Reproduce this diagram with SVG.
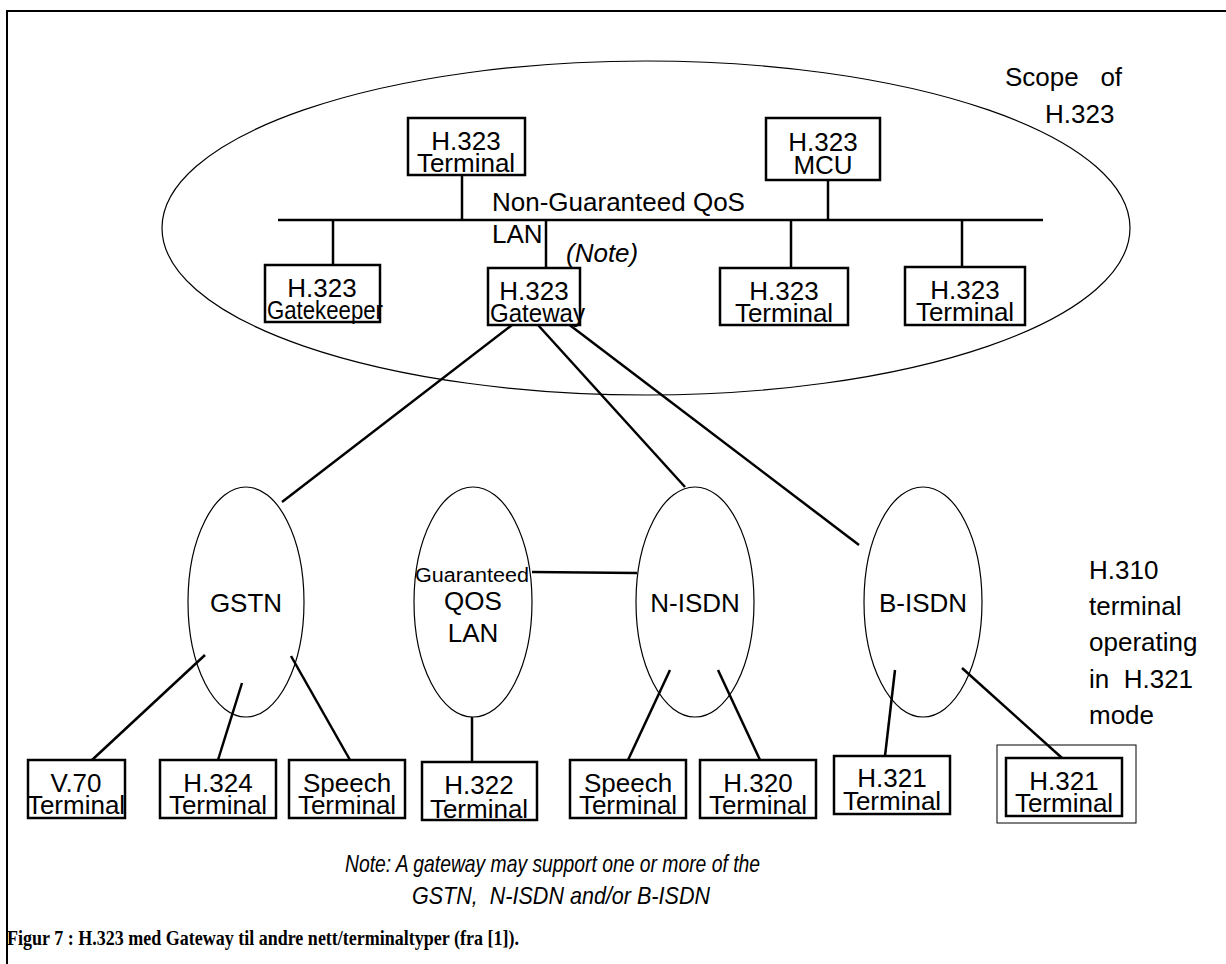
<svg xmlns="http://www.w3.org/2000/svg" width="1226" height="964" viewBox="0 0 1226 964">
<style>
.box{fill:#fff;stroke:#000;stroke-width:2.5}
.ell{fill:none;stroke:#000;stroke-width:1.2}
.ln{stroke:#000;stroke-width:2.5;fill:none}
.t{font-family:"Liberation Sans",Arial,sans-serif;font-size:26px;fill:#000}
.c{text-anchor:middle}
.it{font-style:italic}
.cap{font-family:"Liberation Serif","Times New Roman",serif;font-weight:bold;font-size:22px;fill:#000}
</style>
<rect width="1226" height="964" fill="#fff"/>
<path d="M7,964 V11 H1226" stroke="#000" stroke-width="2" fill="none"/>
<ellipse class="ell" cx="646" cy="228" rx="484" ry="167"/>
<text class="t" x="1005" y="86" style="white-space:pre" xml:space="preserve">Scope   of</text>
<text class="t" x="1045" y="123">H.323</text>
<g id="connectors">
<line class="ln" x1="462" y1="175" x2="462" y2="220"/>
<line class="ln" x1="828" y1="180" x2="828" y2="220"/>
<line class="ln" x1="278" y1="220" x2="1043" y2="220"/>
<line class="ln" x1="333" y1="220" x2="333" y2="265"/>
<line class="ln" x1="546" y1="220" x2="546" y2="268"/>
<line class="ln" x1="791" y1="220" x2="791" y2="268"/>
<line class="ln" x1="962" y1="220" x2="962" y2="267"/>
<line class="ln" x1="512" y1="325" x2="282" y2="502"/>
<line class="ln" x1="538" y1="325" x2="685" y2="487"/>
<line class="ln" x1="567" y1="323" x2="859" y2="545"/>
<line class="ln" x1="532" y1="572" x2="637" y2="573"/>
<line class="ln" x1="205" y1="655" x2="92" y2="760"/>
<line class="ln" x1="242" y1="683" x2="218" y2="760"/>
<line class="ln" x1="291" y1="656" x2="350" y2="760"/>
<line class="ln" x1="472" y1="717" x2="472" y2="762"/>
<line class="ln" x1="670" y1="670" x2="628" y2="760"/>
<line class="ln" x1="718" y1="670" x2="760" y2="760"/>
<line class="ln" x1="895" y1="670" x2="885" y2="756"/>
<line class="ln" x1="962" y1="668" x2="1062" y2="758"/>
</g>
<text class="t" x="492" y="211">Non-Guaranteed QoS</text>
<text class="t" x="492" y="243">LAN</text>
<text class="t it" x="566" y="262">(Note)</text>
<g id="term1"><rect class="box" x="408" y="118" width="117" height="57"/><text class="t c" x="466" y="150">H.323</text><text class="t c" x="466" y="172">Terminal</text></g>
<g id="mcu"><rect class="box" x="766" y="118" width="114" height="62"/><text class="t c" x="823" y="151">H.323</text><text class="t c" x="823" y="174">MCU</text></g>
<g id="gatekeeper"><rect class="box" x="265" y="265" width="115" height="57"/><text class="t c" x="322" y="297">H.323</text><text class="t" x="267" y="319" textLength="116" lengthAdjust="spacingAndGlyphs">Gatekeeper</text></g>
<g id="gateway"><rect class="box" x="488" y="268" width="92" height="57"/><text class="t c" x="534" y="300">H.323</text><text class="t" x="490" y="322" textLength="95" lengthAdjust="spacingAndGlyphs">Gateway</text></g>
<g id="term2"><rect class="box" x="720" y="268" width="128" height="57"/><text class="t c" x="784" y="300">H.323</text><text class="t c" x="784" y="322">Terminal</text></g>
<g id="term3"><rect class="box" x="905" y="267" width="120" height="58"/><text class="t c" x="965" y="299">H.323</text><text class="t c" x="965" y="321">Terminal</text></g>
<g id="gstn"><ellipse class="ell" cx="246" cy="602" rx="58" ry="115"/><text class="t c" x="246" y="612">GSTN</text></g>
<g id="qoslan"><ellipse class="ell" cx="473" cy="602" rx="59" ry="115"/><text class="t" x="415" y="582" style="font-size:20px" textLength="114" lengthAdjust="spacingAndGlyphs">Guaranteed</text><text class="t c" x="473" y="610">QOS</text><text class="t c" x="473" y="642">LAN</text></g>
<g id="nisdn"><ellipse class="ell" cx="695" cy="602" rx="59" ry="115"/><text class="t c" x="695" y="612">N-ISDN</text></g>
<g id="bisdn"><ellipse class="ell" cx="923" cy="602" rx="59" ry="115"/><text class="t c" x="923" y="612">B-ISDN</text></g>
<g id="v70"><rect class="box" x="28" y="760" width="97" height="58"/><text class="t c" x="76" y="792">V.70</text><text class="t c" x="76" y="814">Terminal</text></g>
<g id="h324"><rect class="box" x="160" y="760" width="116" height="58"/><text class="t c" x="218" y="792">H.324</text><text class="t c" x="218" y="814">Terminal</text></g>
<g id="speech1"><rect class="box" x="289" y="760" width="116" height="58"/><text class="t c" x="347" y="792">Speech</text><text class="t c" x="347" y="814">Terminal</text></g>
<g id="h322"><rect class="box" x="422" y="762" width="115" height="58"/><text class="t c" x="479" y="794">H.322</text><text class="t c" x="479" y="818">Terminal</text></g>
<g id="speech2"><rect class="box" x="570" y="760" width="116" height="58"/><text class="t c" x="628" y="792">Speech</text><text class="t c" x="628" y="814">Terminal</text></g>
<g id="h320"><rect class="box" x="700" y="760" width="116" height="58"/><text class="t c" x="758" y="792">H.320</text><text class="t c" x="758" y="814">Terminal</text></g>
<g id="h321a"><rect class="box" x="834" y="756" width="116" height="58"/><text class="t c" x="892" y="787">H.321</text><text class="t c" x="892" y="810">Terminal</text></g>
<g id="h321b"><rect x="997" y="745" width="139" height="78" fill="none" stroke="#000" stroke-width="1"/><rect class="box" x="1006" y="758" width="116" height="58"/><text class="t c" x="1064" y="790">H.321</text><text class="t c" x="1064" y="812">Terminal</text></g>
<text class="t" x="1089" y="579">H.310</text>
<text class="t" x="1089" y="615">terminal</text>
<text class="t" x="1089" y="651">operating</text>
<text class="t" x="1089" y="688" style="white-space:pre" xml:space="preserve">in  H.321</text>
<text class="t" x="1089" y="724">mode</text>
<text class="t it" x="345" y="872" style="font-size:24px" textLength="415" lengthAdjust="spacingAndGlyphs">Note: A gateway may support one or more of the</text>
<text class="t it" x="412" y="904" style="font-size:24px;white-space:pre" xml:space="preserve" textLength="298" lengthAdjust="spacingAndGlyphs">GSTN,  N-ISDN and/or B-ISDN</text>
<text class="cap" x="7" y="945" textLength="512" lengthAdjust="spacingAndGlyphs">Figur 7 : H.323 med Gateway til andre nett/terminaltyper (fra [1]).</text>
</svg>
